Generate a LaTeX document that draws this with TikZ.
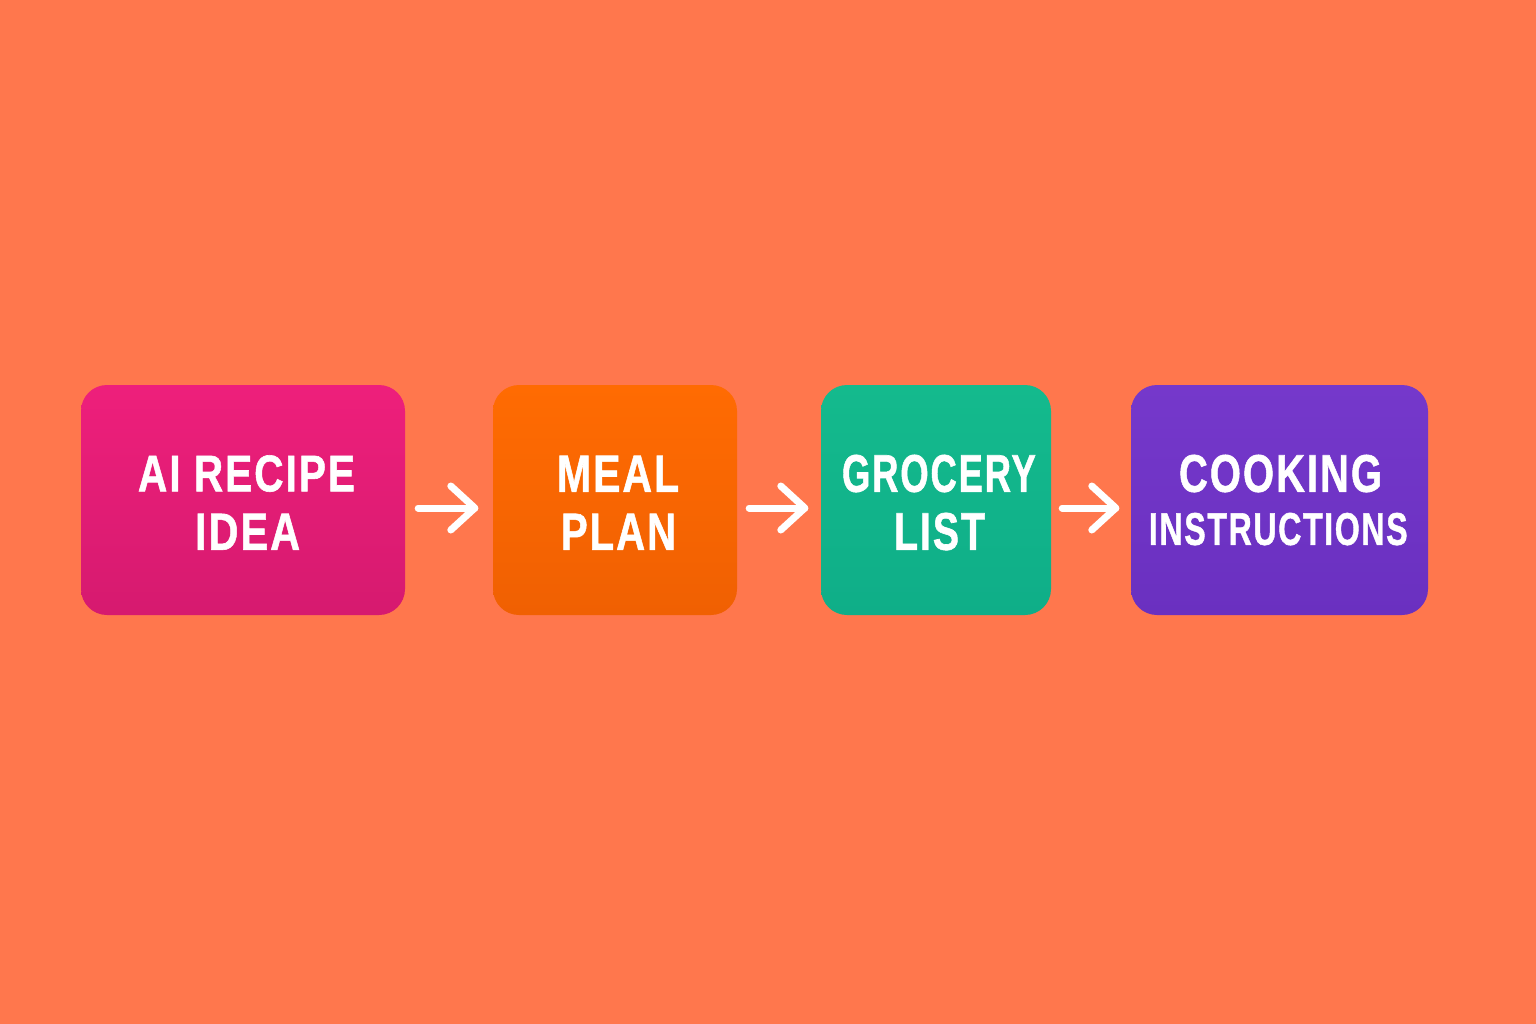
\documentclass[tikz,border=0pt]{standalone}
\usepackage{fontspec}
\setmainfont{Liberation Sans}
\newfontfamily\boxfont{Liberation Sans}[LetterSpace=5, FakeBold=1.2]
\usetikzlibrary{calc,backgrounds}
\definecolor{bg}{HTML}{FF774D}
\definecolor{pinkT}{HTML}{EE1F7B}
\definecolor{pinkB}{HTML}{D61A6F}
\definecolor{orT}{HTML}{FF6B02}
\definecolor{orB}{HTML}{F06002}
\definecolor{grT}{HTML}{14BA8D}
\definecolor{grB}{HTML}{0FAE88}
\definecolor{puT}{HTML}{7538CB}
\definecolor{puB}{HTML}{6A30C0}
\tikzset{
  stepbox/.style={rectangle, rounded corners=26pt, minimum height=230pt, inner sep=0pt, draw=none},
  lbl/.style={inner sep=0pt, anchor=south, text=white, font=\boxfont\bfseries},
  flow/.style={white, line width=7pt, line cap=round, line join=round},
}
\newcommand{\fitw}[3]{\resizebox{#1pt}{#2pt}{#3\kern-0.05em}}
\begin{document}
\begin{tikzpicture}[x=1pt,y=-1pt]
\fill[bg] (0,0) rectangle (1536,1024);
\useasboundingbox (0,0) rectangle (1536,1024);

\node[stepbox, minimum width=324pt, top color=pinkT, bottom color=pinkB] (a) at (243,500) {};
\node[stepbox, minimum width=244pt, top color=orT, bottom color=orB] (b) at (615,500) {};
\node[stepbox, minimum width=230pt, top color=grT, bottom color=grB] (c) at (936,500) {};
\node[stepbox, minimum width=297pt, top color=puT, bottom color=puB] (d) at (1279.5,500) {};

\begin{pgfonlayer}{background}
\foreach \n in {a,b,c,d}{
  \foreach \k in {1,...,6}{
    \fill[black, opacity=0.035, rounded corners=30pt]
      ($(\n.north west)+(-1.5*\k+3,1.5*\k-1)$) rectangle ($(\n.south east)+(1.5*\k-3,2.2*\k+1)$);
  }
}
\end{pgfonlayer}

\node[lbl] (a1) at (245.5,492) {\fitw{215}{36}{AI RECIPE}};
\node[lbl] (a2) at (246.5,550) {\fitw{103}{36}{IDEA}};
\node[lbl] (b1) at (617,492) {\fitw{120}{36}{MEAL}};
\node[lbl] (b2) at (617.5,550) {\fitw{113}{36}{PLAN}};
\node[lbl] (c1) at (938,492.5) {\fitw{192}{37}{GROCERY}};
\node[lbl] (c2) at (938.5,550.5) {\fitw{89}{37}{LIST}};
\node[lbl] (d1) at (1279.5,492.5) {\fitw{201}{37}{COOKING}};
\node[lbl] (d2) at (1277.5,545.5) {\fitw{257}{32}{INSTRUCTIONS}};

\coordinate (s1) at ($(a.east)+(13,8)$);
\coordinate (t1) at ($(b.west)+(-18,8)$);
\coordinate (s2) at ($(b.east)+(12,8)$);
\coordinate (t2) at ($(c.west)+(-16,8)$);
\coordinate (s3) at ($(c.east)+(11,8)$);
\coordinate (t3) at ($(d.west)+(-15,8)$);
\foreach \i in {1,2,3}{
  \draw[flow] (s\i) -- (t\i);
  \draw[flow] ($(t\i)+(-24,-22)$) -- (t\i) -- ($(t\i)+(-24,22)$);
}
\end{tikzpicture}
\end{document}
